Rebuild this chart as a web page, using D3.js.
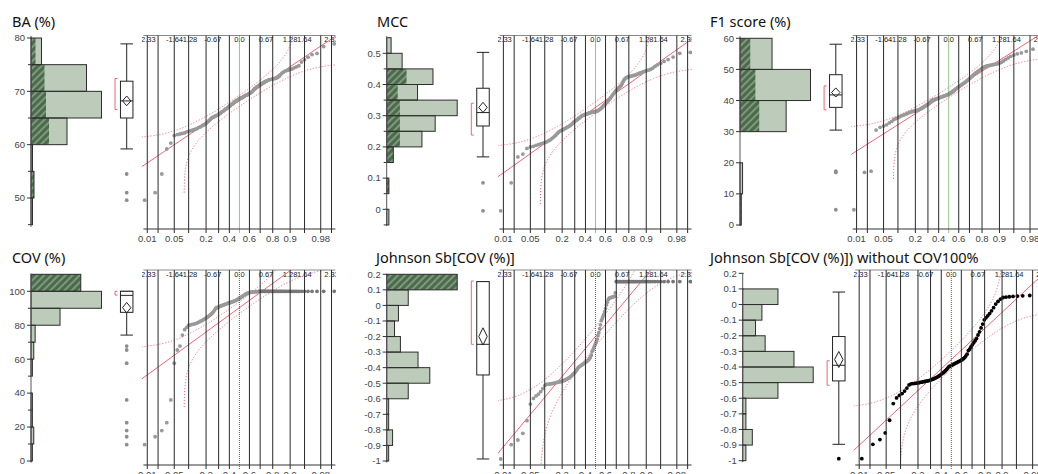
<!DOCTYPE html>
<html>
<head>
<meta charset="utf-8">
<script src="https://cdn.jsdelivr.net/npm/d3@7"></script>
<style>
  body { margin: 0; background: #fff; }
  .title { font-family: "Noto Sans", sans-serif; font-size: 14.5px; fill: #111; }
  .num { font-family: "Liberation Sans", Arial, sans-serif; font-size: 9.5px; fill: #444; }
  .qlab { font-family: "Liberation Sans", Arial, sans-serif; font-size: 7.5px; fill: #222; }
</style>
</head>
<body>
<svg id="chart" width="1038" height="474"></svg>
<script>
const titles = ["BA (%)", "MCC", "F1 score (%)", "COV (%)", "Johnson Sb[COV (%)]", "Johnson Sb[COV (%)]) without COV100%"];

// sorted values
const baValues = [49.6, 51.0, 54.5, 59.2,
  60.3, 61.7, 61.9, 62.0, 62.1, 62.2, 62.4, 62.5, 62.6, 62.7, 62.8, 62.9, 63.0, 63.2, 63.3, 63.4, 63.6, 63.7, 63.8, 64.0, 64.2, 64.4, 64.6, 64.8,
  65.0, 65.1, 65.2, 65.3, 65.4, 65.5, 65.5, 65.7, 65.8, 65.9, 66.1, 66.2, 66.3, 66.4, 66.6, 66.7, 66.8, 66.9, 67.1, 67.2, 67.3, 67.5, 67.6, 67.7, 67.8, 68.0, 68.1, 68.2, 68.3, 68.4, 68.5, 68.6, 68.7, 68.8, 68.8, 68.9, 69.0, 69.1, 69.2, 69.3, 69.3, 69.4, 69.5, 69.6, 69.7, 69.8, 69.9,
  70.1, 70.3, 70.5, 70.6, 70.8, 70.9, 71.0, 71.1, 71.3, 71.4, 71.5, 71.6, 71.7, 71.8, 71.9, 72.0, 72.1, 72.2, 72.2, 72.3, 72.3, 72.4, 72.4, 72.5, 72.6, 72.8, 73.1, 73.4, 73.6, 73.8, 73.9, 74.0, 74.1, 74.2, 74.4, 74.6, 74.8,
  75.5, 75.9, 76.4, 76.9, 77.1, 78.4, 78.9];
const mccValues = [-0.005, 0.085, 0.168, 0.177, 0.195,
  0.200, 0.202, 0.205, 0.207, 0.210, 0.212, 0.214, 0.216, 0.219, 0.222, 0.226, 0.230, 0.234, 0.238, 0.243, 0.247,
  0.250, 0.252, 0.254, 0.256, 0.258, 0.260, 0.262, 0.264, 0.266, 0.268, 0.270, 0.273, 0.276, 0.279, 0.282, 0.284, 0.286, 0.288, 0.291, 0.293, 0.295, 0.298,
  0.300, 0.301, 0.302, 0.303, 0.304, 0.305, 0.306, 0.307, 0.308, 0.309, 0.310, 0.311, 0.311, 0.312, 0.312, 0.313, 0.313, 0.314, 0.315, 0.316, 0.318, 0.320, 0.322, 0.324, 0.327, 0.330, 0.333, 0.336, 0.339, 0.342, 0.345, 0.348,
  0.351, 0.354, 0.358, 0.362, 0.366, 0.370, 0.374, 0.378, 0.381, 0.384, 0.388, 0.391, 0.394, 0.397,
  0.403, 0.410, 0.416, 0.420, 0.422, 0.424, 0.425, 0.426, 0.427, 0.428, 0.429, 0.430, 0.432, 0.434, 0.436, 0.438, 0.440, 0.442, 0.444, 0.446, 0.448,
  0.452, 0.458, 0.463, 0.468, 0.474, 0.480, 0.488,
  0.500, 0.503];
const f1Values = [4.9, 16.9, 17.3,
  30.5, 31.4, 31.8, 32.2, 32.8, 33.3, 33.9, 34.2, 34.5, 34.8, 35.1, 35.3, 35.5, 35.7, 35.9, 36.1, 36.3, 36.4, 36.5, 36.6, 36.7, 36.8, 36.9, 37.0, 37.2, 37.4, 37.6, 37.8, 38.0, 38.2, 38.4, 38.6, 38.8, 39.0, 39.3, 39.6,
  40.0, 40.1, 40.2, 40.3, 40.4, 40.5, 40.6, 40.7, 40.8, 40.9, 41.0, 41.1, 41.2, 41.3, 41.4, 41.5, 41.6, 41.7, 41.8, 41.9, 42.0, 42.2, 42.4, 42.5, 42.7, 42.9, 43.1, 43.3, 43.6, 43.8, 44.0, 44.2, 44.4, 44.6, 44.8, 45.0, 45.2, 45.4, 45.6, 45.8, 46.0, 46.3, 46.5, 46.8, 47.0, 47.3, 47.6, 47.9, 48.2, 48.5, 48.8, 49.0, 49.3, 49.5, 49.8,
  50.0, 50.3, 50.6, 50.8, 51.0, 51.1, 51.2, 51.3, 51.4, 51.5, 51.6, 51.7, 51.8, 52.0, 52.3, 52.7, 53.2, 53.7, 54.2, 54.6, 55.0, 55.3, 55.8, 56.5, 58.1];
const covValues = [9.6, 14.3, 17.9, 22.6, 36.0, 57.6, 65.4, 67.7, 74.2, 77.4, 78.8,
  80.0, 80.2, 80.5, 80.7, 81.0, 81.3, 81.7, 82.1, 82.5, 82.9, 83.4, 83.8, 84.2, 84.7, 85.2, 85.7, 86.2, 86.8, 87.4, 88.2, 89.1,
  90.0, 90.3, 90.5, 90.8, 91.0, 91.3, 91.5, 91.7, 91.9, 92.1, 92.3, 92.5, 92.7, 92.9, 93.0, 93.2, 93.4, 93.5, 93.7, 93.9, 94.1, 94.3, 94.5, 94.8, 95.0, 95.3, 95.6, 95.9, 96.2, 96.5, 96.8, 97.2, 97.5, 97.8, 98.1, 98.4, 98.7, 98.9, 99.1, 99.2, 99.4, 99.5, 99.6, 99.6, 99.7, 99.7, 99.8, 99.8, 99.8, 99.9, 99.9,
  100, 100, 100, 100, 100, 100, 100, 100, 100, 100, 100, 100, 100, 100, 100, 100, 100, 100,
  100, 100, 100, 100, 100, 100, 100, 100, 100, 100, 100, 100, 100, 100, 100, 100, 100, 100];
const johnsonValues = [-0.987, -0.895, -0.865, -0.822, -0.741, -0.634,
  -0.598, -0.582, -0.570, -0.554, -0.535, -0.515, -0.508, -0.506, -0.505, -0.503, -0.502,
  -0.499, -0.497, -0.495, -0.493, -0.491, -0.489, -0.487, -0.484, -0.481, -0.478, -0.474, -0.470, -0.466, -0.461, -0.456, -0.450, -0.444, -0.438, -0.432, -0.424, -0.416, -0.407,
  -0.398, -0.394, -0.390, -0.386, -0.382, -0.378, -0.374, -0.370, -0.366, -0.362, -0.358, -0.353, -0.347, -0.340, -0.330, -0.318,
  -0.295, -0.285, -0.272, -0.258, -0.245, -0.232, -0.218,
  -0.195, -0.175, -0.150, -0.125,
  -0.098, -0.085, -0.072, -0.058, -0.040, -0.020,
  0.003, 0.020, 0.035, 0.045, 0.048, 0.050, 0.052, 0.054, 0.056, 0.058, 0.080,
  0.153, 0.153, 0.153, 0.153, 0.153, 0.153, 0.153, 0.153, 0.153, 0.153, 0.153, 0.153, 0.153, 0.153, 0.153, 0.153, 0.153, 0.153,
  0.153, 0.153, 0.153, 0.153, 0.153, 0.153, 0.153, 0.153, 0.153, 0.153, 0.153, 0.153, 0.153, 0.153, 0.153, 0.153, 0.153, 0.153];
const johnsonNo100 = johnsonValues.filter((v, i) => covValues[i] < 100);

// histogram bin edges and the highlighted (COV = 100) counts per bin
const baBins = [45, 50, 55, 60, 65, 70, 75, 80];
const mccBins = [-0.05, 0, 0.05, 0.1, 0.15, 0.2, 0.25, 0.3, 0.35, 0.4, 0.45, 0.5, 0.55];
const f1Bins = [0, 10, 20, 30, 40, 50, 60];
const covBins = [0, 10, 20, 30, 40, 50, 60, 70, 80, 90, 100, 110];
const johnsonBins = [-1, -0.9, -0.8, -0.7, -0.6, -0.5, -0.4, -0.3, -0.2, -0.1, 0, 0.1, 0.2];
const baSelected = [0, 2, 0, 12, 10, 9, 3];
const mccSelected = [0, 0, 1, 0, 3, 6, 6, 6, 5, 9, 0, 0];
const f1Selected = [1, 0, 0, 15, 12, 8];
const covSelected = [0, 0, 0, 0, 0, 0, 0, 0, 0, 0, 36];
const johnsonSelected = [0, 0, 0, 0, 0, 0, 0, 0, 0, 0, 0, 36];
const noSelected = [0, 0, 0, 0, 0, 0, 0, 0, 0, 0, 0, 0];

// axis ticks
const baTicks = [50, 60, 70, 80], baMinor = [45, 55, 65, 75];
const mccTicks = [0, 0.1, 0.2, 0.3, 0.4, 0.5], mccMinor = [-0.05, 0.05, 0.15, 0.25, 0.35, 0.45];
const f1Ticks = [0, 10, 20, 30, 40, 50, 60];
const covTicks = [0, 20, 40, 60, 80, 100], covMinor = [10, 30, 50, 70, 90];
const johnsonTicks = [-1, -0.9, -0.8, -0.7, -0.6, -0.5, -0.4, -0.3, -0.2, -0.1, 0, 0.1, 0.2];
const probLines = [0.01, 0.02, 0.05, 0.1, 0.2, 0.3, 0.4, 0.5, 0.6, 0.7, 0.8, 0.9, 0.95, 0.98, 0.99];
const probLabels = [0.01, 0.05, 0.2, 0.4, 0.6, 0.8, 0.9, 0.98];
const quantileLabels = [-2.33, -1.64, -1.28, -0.67, 0, 0.67, 1.28, 1.64, 2.33];

// box plot stats, per panel
const whiskerLo = [59.2, 0.168, 30.5, 74.2, -0.987, -0.895];
const boxQ1 = [65.0, 0.267, 37.8, 87.6, -0.447, -0.489];
const boxMedian = [68.2, 0.310, 41.8, 97.6, -0.250, -0.389];
const boxQ3 = [71.9, 0.388, 48.3, 100, 0.153, -0.205];
const whiskerHi = [78.9, 0.503, 58.1, 100, 0.153, 0.080];
const shortHalfLo = [66.6, 0.238, 37.0, 97.8, -0.250, -0.517];
const shortHalfHi = [72.4, 0.340, 44.7, 100, 0.157, -0.360];

const panels = [
  { values: baValues, bins: baBins, sel: baSelected, ticks: baTicks, minor: baMinor },
  { values: mccValues, bins: mccBins, sel: mccSelected, ticks: mccTicks, minor: mccMinor },
  { values: f1Values, bins: f1Bins, sel: f1Selected, ticks: f1Ticks, minor: [] },
  { values: covValues, bins: covBins, sel: covSelected, ticks: covTicks, minor: covMinor },
  { values: johnsonValues, bins: johnsonBins, sel: johnsonSelected, ticks: johnsonTicks, minor: [] },
  { values: johnsonNo100, bins: johnsonBins, sel: noSelected, ticks: johnsonTicks, minor: [] },
];

const layout = [
  { tx: 12, ty: 27, ax: 31, bx: 126.7, qx: 239.4, top: 35.5, bottom: 229, y: [[80, 38], [50, 198]], ext: [44.6, 80.4] },
  { tx: 377, ty: 27, ax: 386.7, bx: 483, qx: 595.5, top: 35.5, bottom: 229, y: [[0.5, 53.3], [0, 209.3]], ext: [-0.054, 0.555] },
  { tx: 710, ty: 27, ax: 740, bx: 835.8, qx: 948.7, top: 35.5, bottom: 229, y: [[60, 38.3], [0, 225]], ext: [-0.3, 60.7] },
  { tx: 12, ty: 263, ax: 31, bx: 126.7, qx: 239.4, top: 270, bottom: 465, y: [[100, 291.3], [0, 461]], ext: [-1, 110.5] },
  { tx: 376, ty: 263, ax: 386.7, bx: 483, qx: 595.5, top: 270, bottom: 465, y: [[0.2, 274.3], [-1, 461]], ext: [-1.01, 0.2] },
  { tx: 710, ty: 263, ax: 742.7, bx: 838.8, qx: 951.3, top: 270, bottom: 465, y: [[0.2, 273.3], [-1, 460.7]], ext: [-1.01, 0.2] },
];

// normal distribution helpers
function normInv(p) {
  const a = [-39.69683028665376, 220.9460984245205, -275.9285104469687, 138.357751867269, -30.66479806614716, 2.506628277459239];
  const b = [-54.47609879822406, 161.5858368580409, -155.6989798598866, 66.80131188771972, -13.28068155288572];
  const c = [-0.007784894002430293, -0.3223964580411365, -2.400758277161838, -2.549732539343734, 4.374664141464968, 2.938163982698783];
  const d = [0.007784695709041462, 0.3224671290700398, 2.445134137142996, 3.754408661907416];
  const pl = 0.02425;
  if (p < pl) {
    const q = Math.sqrt(-2 * Math.log(p));
    return (((((c[0] * q + c[1]) * q + c[2]) * q + c[3]) * q + c[4]) * q + c[5]) / ((((d[0] * q + d[1]) * q + d[2]) * q + d[3]) * q + 1);
  }
  if (p > 1 - pl) {
    const q = Math.sqrt(-2 * Math.log(1 - p));
    return -(((((c[0] * q + c[1]) * q + c[2]) * q + c[3]) * q + c[4]) * q + c[5]) / ((((d[0] * q + d[1]) * q + d[2]) * q + d[3]) * q + 1);
  }
  const q = p - 0.5, r = q * q;
  return (((((a[0] * r + a[1]) * r + a[2]) * r + a[3]) * r + a[4]) * r + a[5]) * q / (((((b[0] * r + b[1]) * r + b[2]) * r + b[3]) * r + b[4]) * r + 1);
}
function normCdf(z) {
  const t = 1 / (1 + 0.3275911 * Math.abs(z) / Math.SQRT2);
  const e = 1 - ((((1.061405429 * t - 1.453152027) * t + 1.421413741) * t - 0.284496736) * t + 0.254829592) * t * Math.exp(-z * z / 2);
  return z >= 0 ? (1 + e) / 2 : (1 - e) / 2;
}

const svg = d3.select("#chart");
const defs = svg.append("defs");
const pat = defs.append("pattern").attr("id", "hatch").attr("patternUnits", "userSpaceOnUse")
  .attr("width", 5).attr("height", 5).attr("patternTransform", "rotate(45)");
pat.append("rect").attr("width", 5).attr("height", 5).attr("fill", "#4c6b4c");
pat.append("rect").attr("width", 2).attr("height", 5).attr("fill", "#7d987b");

const lightFill = "#bccbba", red = "#ee6677";
const line = d3.line();

panels.forEach((P, k) => {
  const L = layout[k];
  const g = svg.append("g");
  const y = d3.scaleLinear().domain([L.y[0][0], L.y[1][0]]).range([L.y[0][1], L.y[1][1]]);

  g.append("text").attr("class", "title").attr("x", L.tx).attr("y", L.ty).text(titles[k]);

  // ---- histogram ----
  const edges = P.bins;
  const bins = d3.bin().domain([edges[0], edges[edges.length - 1]]).thresholds(edges.slice(1, -1))(P.values);
  const hx = d3.scaleLinear().domain([0, d3.max(bins, b => b.length)]).range([L.ax, L.ax + 70.5]);
  const hb = bins.map((b, i) => ({ x0: b.x0, x1: b.x1, n: b.length, s: P.sel[i] || 0 })).filter(b => b.n > 0);
  g.selectAll(".bar").data(hb).join("rect")
    .attr("x", L.ax).attr("y", b => y(b.x1)).attr("width", b => hx(b.n) - L.ax)
    .attr("height", b => y(b.x0) - y(b.x1)).attr("fill", lightFill);
  g.selectAll(".sel").data(hb.filter(b => b.s > 0)).join("rect")
    .attr("x", L.ax).attr("y", b => y(b.x1)).attr("width", b => hx(b.s) - L.ax)
    .attr("height", b => y(b.x0) - y(b.x1)).attr("fill", "url(#hatch)");
  g.selectAll(".outl").data(hb).join("rect")
    .attr("x", L.ax).attr("y", b => y(b.x1)).attr("width", b => hx(b.n) - L.ax)
    .attr("height", b => y(b.x0) - y(b.x1)).attr("fill", "none").attr("stroke", "#2d2d2d").attr("stroke-width", 1);

  g.append("line").attr("x1", L.ax).attr("x2", L.ax).attr("y1", y(L.ext[0])).attr("y2", y(L.ext[1]))
    .attr("stroke", "#555");
  g.selectAll(".tk").data(P.ticks).join("line")
    .attr("x1", L.ax - 4).attr("x2", L.ax + 1).attr("y1", d => y(d)).attr("y2", d => y(d)).attr("stroke", "#333");
  g.selectAll(".mtk").data(P.minor).join("line")
    .attr("x1", L.ax - 3).attr("x2", L.ax).attr("y1", d => y(d)).attr("y2", d => y(d)).attr("stroke", "#333");
  g.selectAll(".tl").data(P.ticks).join("text").attr("class", "num")
    .attr("x", L.ax - 6).attr("y", d => y(d)).attr("dy", "0.35em").attr("text-anchor", "end").text(d => String(d));

  // ---- box plot ----
  const bw = 12.5, bx = L.bx;
  const n = P.values.length;
  const mean = d3.mean(P.values), sd = d3.deviation(P.values);
  const ci = 1.98 * sd / Math.sqrt(n);
  g.append("line").attr("x1", bx).attr("x2", bx).attr("y1", y(whiskerHi[k])).attr("y2", y(boxQ3[k])).attr("stroke", "#222");
  g.append("line").attr("x1", bx).attr("x2", bx).attr("y1", y(boxQ1[k])).attr("y2", y(whiskerLo[k])).attr("stroke", "#222");
  [whiskerHi[k], whiskerLo[k]].forEach(v => g.append("line").attr("x1", bx - bw / 2).attr("x2", bx + bw / 2)
    .attr("y1", y(v)).attr("y2", y(v)).attr("stroke", "#222"));
  g.append("rect").attr("x", bx - bw / 2).attr("width", bw).attr("y", y(boxQ3[k]))
    .attr("height", y(boxQ1[k]) - y(boxQ3[k])).attr("fill", "#fff").attr("stroke", "#222");
  g.append("line").attr("x1", bx - bw / 2).attr("x2", bx + bw / 2)
    .attr("y1", y(boxMedian[k])).attr("y2", y(boxMedian[k])).attr("stroke", "#222");
  g.append("path").attr("d", line([[bx, y(mean + ci)], [bx + 4.2, y(mean)], [bx, y(mean - ci)], [bx - 4.2, y(mean)]]) + "Z")
    .attr("fill", "none").attr("stroke", "#222");
  const brX = bx - 11.7;
  g.append("path").attr("d", line([[brX + 2.5, y(shortHalfHi[k])], [brX, y(shortHalfHi[k])], [brX, y(shortHalfLo[k])], [brX + 2.5, y(shortHalfLo[k])]]))
    .attr("fill", "none").attr("stroke", red);
  const outliers = P.values.filter(v => v < whiskerLo[k] - 1e-9 || v > whiskerHi[k] + 1e-9);
  const dotCol = (i) => k === 5 ? "#000" : ((k === 3 || k === 4) && covValues[i] === 100 ? "#767676" : "#999");
  g.selectAll(".out").data(outliers).join("circle")
    .attr("cx", bx).attr("cy", d => y(d)).attr("r", 1.9).attr("fill", k === 5 ? "#000" : "#8d8d8d");

  // ---- normal quantile plot ----
  const qx = d3.scaleLinear().domain([-1, 1]).range([L.qx - 39.6, L.qx + 39.6]);
  const left = L.qx - 97.5, right = L.qx + 96.5;
  const cid = "clip" + k;
  defs.append("clipPath").attr("id", cid).append("rect")
    .attr("x", left).attr("y", L.top).attr("width", right - left).attr("height", L.bottom - L.top);
  const q = g.append("g");
  const qc = q.append("g").attr("clip-path", `url(#${cid})`);

  q.append("line").attr("x1", left + 1.5).attr("x2", right - 0.5).attr("y1", L.top).attr("y2", L.top).attr("stroke", "#888");
  q.selectAll(".gl").data(probLines.filter(p => p !== 0.5)).join("line")
    .attr("x1", p => qx(normInv(p))).attr("x2", p => qx(normInv(p)))
    .attr("y1", L.top).attr("y2", L.bottom + 4).attr("stroke", "#2a2a2a").attr("stroke-width", 1);
  q.append("line").attr("x1", qx(0)).attr("x2", qx(0)).attr("y1", L.top).attr("y2", L.bottom + 4)
    .attr("stroke", "#1f8a1f").attr("stroke-dasharray", "1,1");
  q.append("line").attr("x1", left + 1.5).attr("x2", right - 0.5).attr("y1", L.bottom).attr("y2", L.bottom).attr("stroke", "#333");
  q.selectAll(".pl").data(probLabels).join("text").attr("class", "num").attr("fill", "#333")
    .attr("x", p => qx(normInv(p))).attr("y", L.bottom + 13).attr("text-anchor", "middle").text(p => String(p));
  qc.selectAll(".ql").data(quantileLabels).join("text").attr("class", "qlab")
    .attr("x", z => qx(z)).attr("y", L.top + 6.5).attr("text-anchor", "middle").text(z => z === 0 ? "0.0" : String(z));

  // normal fit and Lilliefors bands
  const dCrit = 0.886 / Math.sqrt(n);
  const zs = d3.range(-2.7, 2.7, 0.003);
  qc.append("path").attr("d", line([[qx(-2.7), y(mean - 2.7 * sd)], [qx(2.7), y(mean + 2.7 * sd)]]))
    .attr("fill", "none").attr("stroke", red).attr("stroke-width", 1);
  const upper = zs.map(z => [z, normCdf(z) + dCrit]).filter(o => o[1] < 0.999999)
    .map(o => [qx(o[0]), y(mean + sd * normInv(o[1]))]);
  const lower = zs.map(z => [z, normCdf(z) - dCrit]).filter(o => o[1] > 0.000001)
    .map(o => [qx(o[0]), y(mean + sd * normInv(o[1]))]);
  [upper, lower].forEach(pts => qc.append("path").attr("d", line(pts))
    .attr("fill", "none").attr("stroke", red).attr("stroke-width", 1).attr("stroke-dasharray", "1.2,1.8"));

  const sorted = P.values.slice().sort(d3.ascending);
  qc.selectAll(".pt").data(sorted).join("circle")
    .attr("cx", (d, i) => qx(normInv((i + 1) / (n + 1)))).attr("cy", d => y(d))
    .attr("r", 1.9).attr("fill", (d, i) => dotCol(i));
});
</script>
</body>
</html>
